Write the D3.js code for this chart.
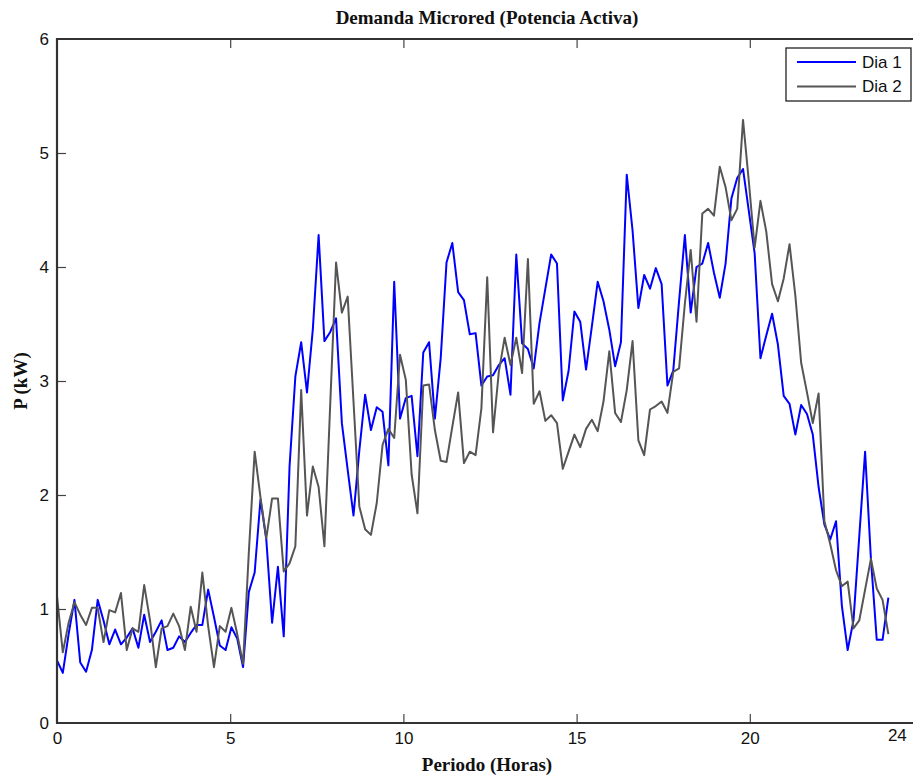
<!DOCTYPE html>
<html>
<head>
<meta charset="utf-8">
<script src="https://cdn.jsdelivr.net/npm/d3@7"></script>
<style>
  body { margin: 0; background: #fff; }
  .tick text { font-family: "Liberation Sans", Arial, sans-serif; font-size: 17px; fill: #111; }
  .tick line { stroke: #444; stroke-width: 1.2; }
  .ttl { font-family: "Liberation Serif", "Times New Roman", serif; font-weight: bold; font-size: 19px; fill: #111; }
</style>
</head>
<body>
<div class="chart"></div>
<script>
// Demanda (kW) cada 10 min, 144 muestras entre 0 y 24 h
var dia1 = [0.55,0.44,0.78,1.08,0.53,0.45,0.64,1.08,0.90,0.69,0.82,0.69,0.75,0.83,0.66,0.95,0.71,0.80,0.90,0.64,
  0.66,0.76,0.71,0.79,0.86,0.86,1.17,0.93,0.68,0.64,0.84,0.74,0.49,1.15,1.32,1.96,1.61,0.88,1.37,0.76,
  2.25,3.04,3.34,2.90,3.45,4.28,3.35,3.43,3.55,2.63,2.22,1.82,2.39,2.88,2.57,2.77,2.73,2.26,3.87,2.67,
  2.85,2.87,2.34,3.25,3.34,2.67,3.20,4.04,4.21,3.78,3.71,3.41,3.42,2.96,3.04,3.05,3.14,3.20,2.88,4.11,
  3.33,3.28,3.11,3.51,3.81,4.11,4.03,2.83,3.09,3.61,3.52,3.10,3.48,3.87,3.70,3.45,3.13,3.34,4.81,4.32,
  3.64,3.93,3.81,3.99,3.85,2.96,3.09,3.70,4.28,3.60,4.00,4.03,4.21,3.95,3.73,4.03,4.60,4.78,4.86,4.49,
  4.12,3.20,3.40,3.59,3.32,2.87,2.80,2.53,2.79,2.71,2.53,2.07,1.74,1.61,1.77,1.03,0.64,0.90,1.64,2.38,
  1.44,0.73,0.73,1.10];
var dia2 = [1.11,0.62,0.88,1.06,0.95,0.86,1.01,1.01,0.71,0.99,0.97,1.14,0.64,0.83,0.80,1.21,0.90,0.49,0.83,0.85,
  0.96,0.85,0.64,1.02,0.80,1.32,0.85,0.49,0.85,0.80,1.01,0.78,0.52,1.50,2.38,1.98,1.62,1.97,1.97,1.33,
  1.40,1.55,2.92,1.82,2.25,2.07,1.55,2.80,4.04,3.60,3.74,2.82,1.90,1.70,1.65,1.93,2.44,2.58,2.50,3.23,
  3.01,2.18,1.84,2.96,2.97,2.57,2.30,2.29,2.60,2.90,2.28,2.38,2.35,2.76,3.91,2.55,3.08,3.38,3.14,3.38,
  3.07,4.07,2.80,2.91,2.65,2.70,2.63,2.23,2.38,2.53,2.42,2.58,2.66,2.56,2.82,3.26,2.72,2.64,2.92,3.35,
  2.48,2.35,2.75,2.78,2.82,2.72,3.08,3.11,3.68,4.15,3.52,4.47,4.51,4.45,4.88,4.70,4.41,4.51,5.29,4.75,
  4.17,4.58,4.31,3.85,3.70,3.90,4.20,3.75,3.16,2.90,2.63,2.89,1.77,1.57,1.34,1.20,1.24,0.83,0.90,1.17,
  1.44,1.18,1.08,0.78];
var seriesNames = ["Dia 1", "Dia 2"];
var seriesColors = ["#0000ff", "#555555"];
var xTicks = [0, 5, 10, 15, 20];
var yTicks = [0, 1, 2, 3, 4, 5, 6];
var lastLabel = "24";

var WIDTH = 913, HEIGHT = 776;
var LEFT = 57, TOP = 39, BOTTOM = 723, RIGHT = 913;

var horas = d3.range(dia1.length).map(function(i) { return i * 24 / (dia1.length - 1); });

var x = d3.scaleLinear().domain([0, 24.7]).range([LEFT, LEFT + 24.7 * 34.64]);
var y = d3.scaleLinear().domain([0, 6]).range([BOTTOM, TOP]);

var svg = d3.select('.chart').append('svg')
  .attr('width', WIDTH)
  .attr('height', HEIGHT);

var line = d3.line()
  .x(function(d, i) { return x(horas[i]); })
  .y(function(d) { return y(d); });

[dia1, dia2].forEach(function(serie, k) {
  svg.append('path')
    .datum(serie)
    .attr('fill', 'none')
    .attr('stroke', seriesColors[k])
    .attr('stroke-width', 2)
    .attr('stroke-linejoin', 'round')
    .attr('d', line);
});

// ejes con marcas hacia dentro
var xAxis = d3.axisBottom(x).tickValues(xTicks).tickSize(-9).tickPadding(9).tickFormat(d3.format('d'));
var yAxis = d3.axisLeft(y).tickValues(yTicks).tickSize(-9).tickPadding(8).tickFormat(d3.format('d'));
var xTop = d3.axisTop(x).tickValues(xTicks.slice(1)).tickSize(-9).tickFormat('');

var gx = svg.append('g').attr('transform', 'translate(0,' + BOTTOM + ')').call(xAxis);
var gy = svg.append('g').attr('transform', 'translate(' + LEFT + ',0)').call(yAxis);
var gt = svg.append('g').attr('transform', 'translate(0,' + TOP + ')').call(xTop);
[gx, gy, gt].forEach(function(g) { g.select('.domain').remove(); });
gx.selectAll('.tick').filter(function(d) { return d === 0; }).select('line').remove();
gy.selectAll('.tick').filter(function(d) { return d === 0 || d === 6; }).select('line').remove();

svg.append('text')
  .attr('x', x(24) + 9).attr('y', BOTTOM + 6)
  .attr('dy', '0.71em')
  .attr('text-anchor', 'middle')
  .style('font-family', '"Liberation Sans", Arial, sans-serif')
  .style('font-size', '17px').style('fill', '#111')
  .text(lastLabel);

// marco
svg.append('path')
  .attr('d', 'M' + RIGHT + ',' + TOP + 'H' + LEFT + 'V' + BOTTOM + 'H' + RIGHT)
  .attr('fill', 'none').attr('stroke', '#333').attr('stroke-width', 2.2);

// titulos
svg.append('text').attr('class', 'ttl')
  .attr('x', 487).attr('y', 24).attr('text-anchor', 'middle')
  .text('Demanda Microred (Potencia Activa)');
svg.append('text').attr('class', 'ttl')
  .attr('x', 487).attr('y', 771).attr('text-anchor', 'middle')
  .text('Periodo (Horas)');
svg.append('text').attr('class', 'ttl')
  .attr('transform', 'translate(27,' + ((TOP + BOTTOM) / 2) + ') rotate(-90)')
  .attr('text-anchor', 'middle')
  .text('P (kW)');

// leyenda
var leg = svg.append('g').attr('transform', 'translate(786,48)');
leg.append('rect').attr('width', 125).attr('height', 53)
  .attr('fill', '#fff').attr('stroke', '#222').attr('stroke-width', 1.3);
seriesNames.forEach(function(name, k) {
  var yy = 14 + k * 24.5;
  leg.append('line').attr('x1', 11).attr('x2', 70).attr('y1', yy).attr('y2', yy)
    .attr('stroke', seriesColors[k]).attr('stroke-width', 2);
  leg.append('text').attr('x', 76).attr('y', yy).attr('dy', '0.35em')
    .style('font-family', '"Liberation Sans", Arial, sans-serif')
    .style('font-size', '17px').style('fill', '#111')
    .text(name);
});
</script>
</body>
</html>
